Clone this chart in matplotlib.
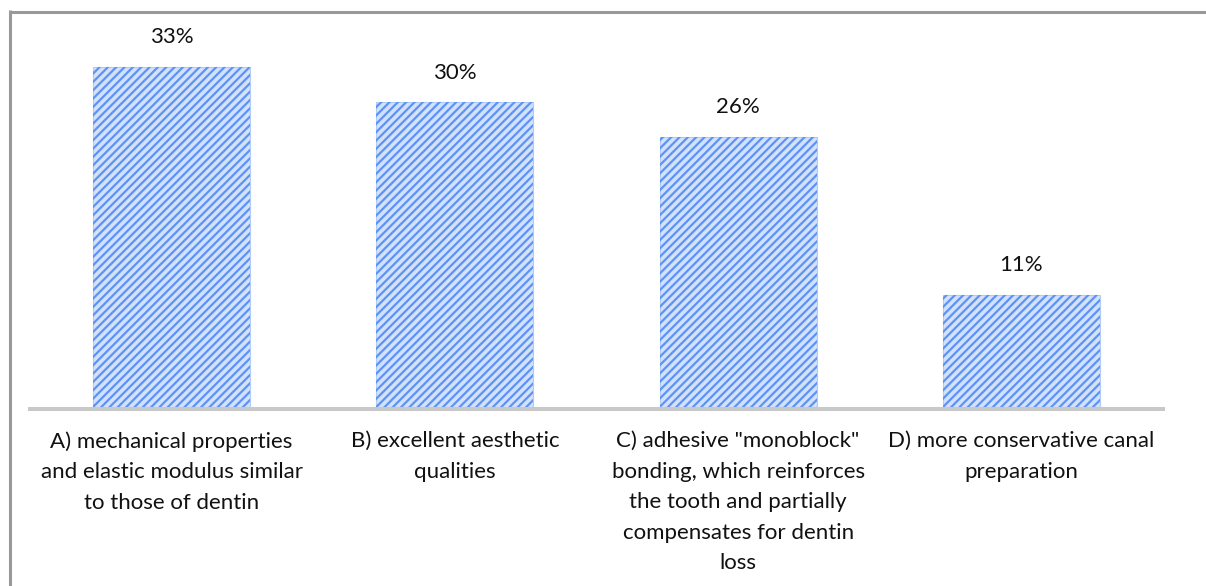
import matplotlib
matplotlib.use("Agg")
import matplotlib.pyplot as plt
from matplotlib.lines import Line2D

categories = [
    'A) mechanical properties\nand elastic modulus similar\nto those of dentin',
    'B) excellent aesthetic\nqualities',
    'C) adhesive "monoblock"\nbonding, which reinforces\nthe tooth and partially\ncompensates for dentin\nloss',
    'D) more conservative canal\npreparation',
]
values = [32.9, 29.5, 26.2, 11.0]
value_labels = ['33%', '30%', '26%', '11%']

plt.rcParams['font.family'] = ['Lato', 'DejaVu Sans']
plt.rcParams['hatch.linewidth'] = 1.6

W, H = 1206, 586
fig = plt.figure(figsize=(W / 100, H / 100), dpi=100)
ax = fig.add_axes([30 / W, 1 - 409 / H, (1163 - 30) / W, (409 - 20) / H])

x = list(range(len(categories)))
# base fill
bars = ax.bar(x, values, width=0.555, color='#d2e2fd', edgecolor='#b0cbf8',
              linewidth=0.8)
# hatch overlay (hatch takes the edge colour; edge itself hidden)
ax.bar(x, values, width=0.555, facecolor='none', edgecolor='#5e93f5',
       linewidth=0, hatch='////')
for b, lab in zip(bars, value_labels):
    ax.annotate(lab, (b.get_x() + b.get_width() / 2, b.get_height()),
                xytext=(0, 14), textcoords='offset points', ha='center',
                va='bottom', fontsize=16, color='#111111')

ax.set_xlim(-0.5, len(categories) - 0.5)
ax.set_ylim(0, (409 - 20) / 10.4)
ax.set_xticks(x)
ax.set_xticklabels(categories, fontsize=16, color='#111111', linespacing=1.66)
ax.tick_params(axis='x', length=0, pad=16)
ax.set_yticks([])
for s in ['top', 'right', 'left']:
    ax.spines[s].set_visible(False)
ax.spines['bottom'].set_color('#c8c8c8')
ax.spines['bottom'].set_linewidth(2.9)

# outer frame (top and left)
fig.add_artist(Line2D([9.5 / W, 1.0], [1 - 11.5 / H, 1 - 11.5 / H],
                      transform=fig.transFigure, color='#999999', linewidth=2.2,
                      solid_capstyle='butt'))
fig.add_artist(Line2D([9.5 / W, 9.5 / W], [1 - 10 / H, 0],
                      transform=fig.transFigure, color='#999999', linewidth=2.2,
                      solid_capstyle='butt'))

fig.savefig('out.png', dpi=100, facecolor='white')
